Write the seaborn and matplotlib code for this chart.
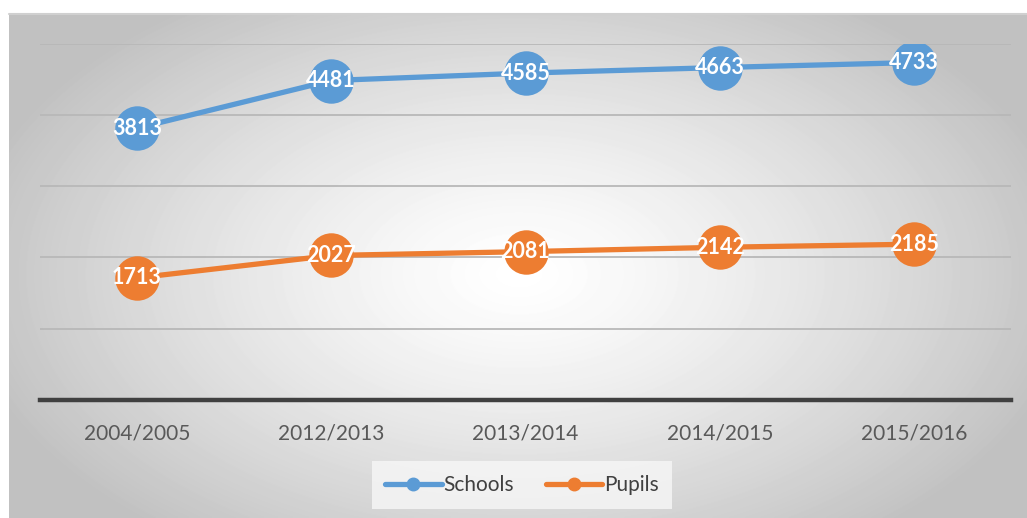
import numpy as np
import pandas as pd
import seaborn as sns
import matplotlib.pyplot as plt
from matplotlib.lines import Line2D

# ---- data ----
years = ["2004/2005", "2012/2013", "2013/2014", "2014/2015", "2015/2016"]
schools = [3813, 4481, 4585, 4663, 4733]
pupils = [1713, 2027, 2081, 2142, 2185]
series_names = ["Schools", "Pupils"]
colors = ["#5B9BD5", "#ED7D31"]

df = pd.DataFrame({
    "year": years * 2,
    "value": schools + pupils,
    "series": [series_names[0]] * len(years) + [series_names[1]] * len(years),
})

sns.set_theme(style="white")
plt.rcParams["font.family"] = ["Lato", "DejaVu Sans"]

W, H = 1027, 518
fig = plt.figure(figsize=(W / 100, H / 100), dpi=100)

# radial gradient background for the chart area
bg = fig.add_axes([9 / W, 0, 1 - 9 / W, 504 / H])
yy, xx = np.mgrid[0:504, 0:1018]
cx, cy = 510, 260
d = np.sqrt(((xx - cx) / 560.0) ** 2 + ((yy - cy) / 330.0) ** 2)
d = np.clip(d, 0, 1)
shade = 1.0 - 0.24 * d ** 1.3
bg.imshow(shade, cmap="gray", vmin=0, vmax=1, aspect="auto", interpolation="bilinear")
bg.set_axis_off()
fig.add_artist(plt.Line2D([9 / W, 1], [1 - 14 / H, 1 - 14 / H], color="#d0d0d0", lw=1.5))

ax = fig.add_axes([40 / W, (H - 400) / H, 971 / W, (400 - 43.5) / H])
ax.patch.set_alpha(0)

sns.lineplot(data=df, x="year", y="value", hue="series", palette=colors,
             marker="o", markersize=32, linewidth=3.8, markeredgewidth=0,
             sort=False, legend=False, ax=ax, zorder=3)

# data labels
for vals in (schools, pupils):
    for i, v in enumerate(vals):
        ax.text(i, v, str(v), ha="center", va="center", color="white",
                fontsize=15.5, fontweight="bold", zorder=5)

ax.set_xlim(-0.5, len(years) - 0.5)
ax.set_ylim(0, 5000)
ax.set_yticks([1000, 2000, 3000, 4000, 5000])
ax.yaxis.grid(True, color="#b8b8b8", linewidth=1.3)
ax.set_yticklabels([])
ax.tick_params(axis="y", length=0)
ax.tick_params(axis="x", length=0, labelsize=15, labelcolor="#595959", pad=17)
ax.set_xlabel("")
ax.set_ylabel("")
for s in ["top", "right", "left"]:
    ax.spines[s].set_visible(False)
ax.spines["bottom"].set_color("#404040")
ax.spines["bottom"].set_linewidth(3.2)

handles = [Line2D([0], [0], color=c, lw=3.8, marker="o", markersize=9,
                  solid_capstyle="round") for c in colors]
leg = fig.legend(handles, series_names, loc="center", bbox_to_anchor=(522 / W, (H - 485) / H),
                 ncol=2, frameon=True, fontsize=15, handlelength=2.7, handletextpad=0.1,
                 columnspacing=1.5, borderpad=0.35)
leg.get_frame().set_facecolor("#f7f7f7")
leg.get_frame().set_edgecolor("none")
leg.get_frame().set_alpha(0.8)
leg.get_frame().set_boxstyle("square", pad=0.3)
for t in leg.get_texts():
    t.set_color("#404040")

fig.savefig("out.png", dpi=100)
